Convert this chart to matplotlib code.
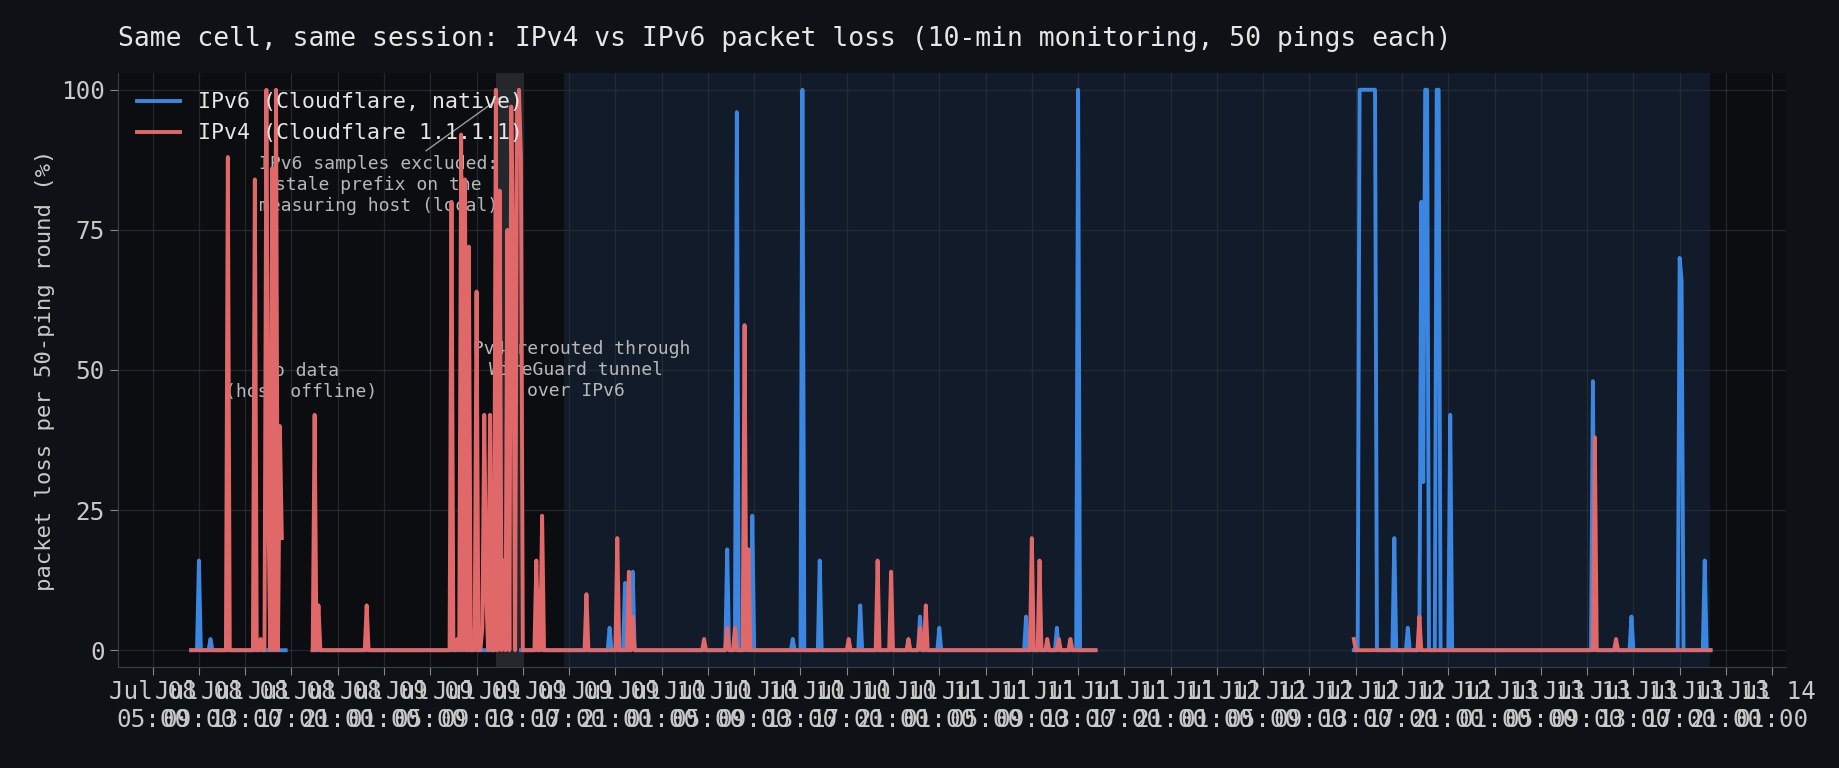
import numpy as np
import matplotlib
matplotlib.use("Agg")
import matplotlib.pyplot as plt
import matplotlib.dates as mdates
from datetime import datetime, timedelta

T0 = datetime(2025, 7, 8, 5, 0)

# coverage segments (hours since Jul 08 05:00), 10-min sampling
ipv6_segments = [(3.33, 11.5), (13.9, 29.6), (31.8, 81.5), (103.9, 134.6)]
ipv4_segments = [(3.33, 11.2), (13.9, 81.5), (103.9, 134.6)]

# non-zero loss samples (hour, % loss)
ipv6_hours = [3.98, 5.05, 27.8, 33.5, 39.5, 40.8, 41.45, 49.75, 50.55, 51.85, 55.3, 56.2,
              57.6, 61.2, 66.33, 68.0, 75.5, 78.1, 80.0,
              104.33, 104.5, 104.67, 104.83, 105.0, 105.17, 105.33, 105.5, 105.67,
              107.33, 108.5, 109.67, 109.83, 110.0, 110.17, 111.0, 111.17, 112.25,
              124.5, 127.83, 132.0, 132.17, 134.17]
ipv6_loss = [16, 2, 4, 11, 4, 12, 14, 18, 96, 24, 2, 100,
             16, 8, 6, 4, 6, 4, 100,
             100, 100, 100, 100, 100, 100, 100, 100, 100,
             20, 4, 80, 30, 100, 100, 100, 100, 42,
             48, 6, 70, 66, 16]

ipv4_hours = [6.48, 8.77, 9.34, 9.77, 10.06, 10.4, 10.69, 10.92, 11.2,
              14.05, 14.4, 18.5,
              25.83, 26.33, 26.67, 27.0, 27.33, 28.0, 28.5, 28.67, 28.83, 29.17,
              29.67, 30.0, 30.33, 30.67, 31.0, 31.17, 31.5, 31.67, 31.83,
              33.1, 33.6, 37.5, 40.2, 41.1, 41.45, 47.65, 49.75, 50.33, 51.1, 51.58,
              60.1, 62.7, 63.83, 65.33, 66.3, 66.83, 75.95, 76.7, 77.3, 78.3, 79.3,
              103.9, 109.45, 124.67, 126.5]
ipv4_loss = [88, 84, 2, 100, 26, 86, 100, 40, 20,
             42, 8, 8,
             80, 2, 92, 84, 72, 64, 4, 42, 10, 42,
             100, 82, 16, 75, 97, 72, 96, 100, 88,
             16, 24, 10, 20, 14, 6, 2, 4, 4, 58, 18,
             2, 16, 14, 2, 4, 8, 20, 16, 2, 2, 2,
             2, 6, 38, 2]


def build(segments, hours, loss):
    ts, vs = [], []
    for s, e in segments:
        k = np.arange(int(round(s * 6)), int(round(e * 6)) + 1)
        t = k / 6.0
        v = np.zeros_like(t)
        for h, l in zip(hours, loss):
            if s - 0.05 <= h <= e + 0.05:
                idx = int(np.argmin(np.abs(t - h)))
                v[idx] = l
        ts.extend(list(t)); vs.extend(list(v))
        ts.append(np.nan); vs.append(np.nan)
    x = np.array([mdates.date2num(T0 + timedelta(hours=float(h))) if not np.isnan(h) else np.nan
                  for h in ts])
    return x, np.array(vs)


def hn(h):
    return mdates.date2num(T0 + timedelta(hours=h))


BG = "#0e1116"
plt.rcParams["font.family"] = ["DejaVu Sans Mono"]
fig = plt.figure(figsize=(18.4, 7.68), dpi=100, facecolor=BG)
ax = fig.add_axes([0.0641, 0.1315, 0.9066, 0.7735])
ax.set_facecolor("#0b0d10")

ax.axvspan(hn(35.6), hn(134.6), color="#1a2e48", alpha=0.45, lw=0, zorder=0)
ax.axvspan(hn(29.7), hn(32.0), color="#3a3f46", alpha=0.55, lw=0, zorder=0)

x6, y6 = build(ipv6_segments, ipv6_hours, ipv6_loss)
x4, y4 = build(ipv4_segments, ipv4_hours, ipv4_loss)
ax.plot(x6, y6, color="#3a86e0", lw=2.8, label="IPv6 (Cloudflare, native)", zorder=3)
ax.plot(x4, y4, color="#e06868", lw=2.8, label="IPv4 (Cloudflare 1.1.1.1)", zorder=4)

ax.set_xlim(hn(-3.0), hn(141.2))
ax.set_ylim(-3, 103)
ax.set_yticks([0, 25, 50, 75, 100])
ax.xaxis.set_major_locator(mdates.HourLocator(byhour=[1, 5, 9, 13, 17, 21]))
ax.xaxis.set_major_formatter(mdates.DateFormatter("%b %d\n%H:%M"))
ax.grid(True, color="#2a3038", lw=0.9, alpha=0.8)
ax.set_axisbelow(True)
for sp in ["top", "right"]:
    ax.spines[sp].set_visible(False)
for sp in ["left", "bottom"]:
    ax.spines[sp].set_color("#3a3f46")
ax.tick_params(colors="#c9c9c9", labelsize=17.5, length=6, color="#888888")
ax.set_ylabel("packet loss per 50-ping round (%)", color="#c9c9c9", fontsize=16)

fig.text(118 / 1840, 1 - 39 / 768, "Same cell, same session: IPv4 vs IPv6 packet loss (10-min monitoring, 50 pings each)",
         color="#e6e6e6", fontsize=19, va="center", ha="left")

leg = ax.legend(loc="upper left", frameon=False, fontsize=15.5, handlelength=2.0,
                bbox_to_anchor=(0.0, 1.0))
for t in leg.get_texts():
    t.set_color("#e6e6e6")

acol = "#b8b8b8"
ax.annotate("IPv6 samples excluded:\nstale prefix on the\nmeasuring host (local)",
            xy=(hn(30.3), 99), xytext=(hn(19.5), 83), ha="center", va="center",
            color=acol, fontsize=13,
            arrowprops=dict(arrowstyle="-", color="#9a9a9a", lw=1))
ax.text(hn(12.8), 48, "no data\n(host offline)", ha="center", va="center", color=acol, fontsize=13)
ax.text(hn(36.6), 50, "IPv4 rerouted through\nWireGuard tunnel\nover IPv6", ha="center", va="center",
        color=acol, fontsize=13)

fig.savefig("out.png", dpi=100, facecolor=BG)
